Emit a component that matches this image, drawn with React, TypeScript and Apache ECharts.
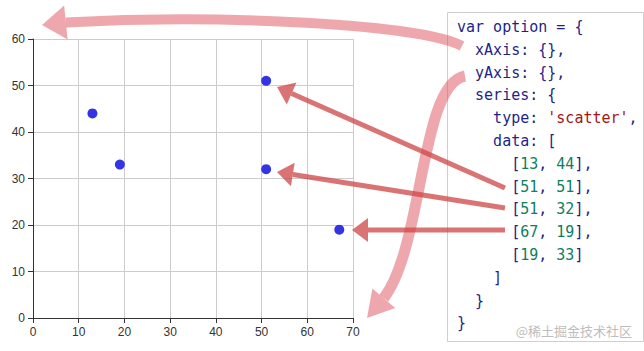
import React, { useEffect, useRef } from "react";
import * as echarts from "echarts";

const points: number[][] = [
  [13, 44],
  [51, 51],
  [51, 32],
  [67, 19],
  [19, 33],
];
const xTicks = [0, 70, 10];
const yTicks = [0, 60, 10];

const NAVY = "#1f1f87";
const RED = "#a31515";
const GREEN = "#0e8060";

type Seg = [string, string];

function codeLines(): { indent: number; segs: Seg[] }[] {
  const lines: { indent: number; segs: Seg[] }[] = [
    { indent: 0, segs: [["k", "var option = {"]] },
    { indent: 2, segs: [["k", "xAxis: {},"]] },
    { indent: 2, segs: [["k", "yAxis: {},"]] },
    { indent: 2, segs: [["k", "series: {"]] },
    { indent: 4, segs: [["k", "type: "], ["s", "'scatter'"], ["k", ","]] },
    { indent: 4, segs: [["k", "data: ["]] },
  ];
  points.forEach((p, i) => {
    lines.push({
      indent: 6,
      segs: [
        ["k", "["],
        ["n", String(p[0])],
        ["k", ", "],
        ["n", String(p[1])],
        ["k", i < points.length - 1 ? "]," : "]"],
      ],
    });
  });
  lines.push({ indent: 4, segs: [["k", "]"]] });
  lines.push({ indent: 2, segs: [["k", "}"]] });
  lines.push({ indent: 0, segs: [["k", "}"]] });
  return lines;
}

function arrowHead(fromX: number, fromY: number, tipX: number, tipY: number, len: number, half: number) {
  const dx = tipX - fromX;
  const dy = tipY - fromY;
  const L = Math.sqrt(dx * dx + dy * dy);
  const ux = dx / L;
  const uy = dy / L;
  const bx = tipX - ux * len;
  const by = tipY - uy * len;
  const nx = -uy;
  const ny = ux;
  return {
    base: [bx, by],
    poly: [
      [tipX, tipY],
      [bx + nx * half, by + ny * half],
      [bx - nx * half, by - ny * half],
    ],
  };
}

export default function App() {
  const ref = useRef<HTMLDivElement>(null);
  useEffect(() => {
    if (!ref.current) return;
    const chart = echarts.init(ref.current, undefined, { renderer: "svg" });

    const graphics: any[] = [];
    // code panel
    graphics.push({
      type: "rect",
      shape: { x: 447.5, y: 12.5, width: 196, height: 329 },
      style: { fill: "#fff", stroke: "#cfcfcf", lineWidth: 1 },
      z: 1,
    });
    const charW = 9.03;
    const colors: Record<string, string> = { k: NAVY, s: RED, n: GREEN };
    codeLines().forEach((ln, i) => {
      let x = 457 + ln.indent * charW;
      const y = 27 + i * 22.8;
      ln.segs.forEach(([k, t]) => {
        graphics.push({
          type: "text",
          x,
          y,
          style: {
            text: t,
            verticalAlign: "middle",
            fill: colors[k],
            font: '15px "DejaVu Sans Mono", monospace',
          },
          z: 2,
        });
        x += t.length * charW;
      });
    });
    // watermark
    graphics.push({
      type: "text",
      x: 632,
      y: 330,
      style: {
        text: "@稀土掘金技术社区",
        align: "right",
        verticalAlign: "middle",
        fill: "#bdbdbd",
        font: '13px "Noto Sans CJK SC", sans-serif',
      },
      z: 2,
    });

    const PINK = "rgba(222,82,92,0.5)";
    const DARK = "rgba(205,70,70,0.75)";

    // arrow 1 (top, curved to y axis)
    const h1 = arrowHead(80, 21, 42, 25, 24, 17);
    graphics.push({
      type: "bezierCurve",
      shape: { x1: 462, y1: 46, cpx1: 420, cpy1: 24, cpx2: 220, cpy2: 14, x2: h1.base[0], y2: h1.base[1] },
      style: { stroke: PINK, lineWidth: 10, fill: "none" },
      z: 5,
    });
    graphics.push({ type: "polygon", shape: { points: h1.poly }, style: { fill: PINK }, z: 5 });

    // arrow 2 (big arc down to x axis)
    const h2 = arrowHead(395, 285, 367, 318, 26, 15);
    graphics.push({
      type: "bezierCurve",
      shape: { x1: 465, y1: 76, cpx1: 420, cpy1: 84, cpx2: 424, cpy2: 245, x2: h2.base[0], y2: h2.base[1] },
      style: { stroke: PINK, lineWidth: 11, fill: "none" },
      z: 5,
    });
    graphics.push({ type: "polygon", shape: { points: h2.poly }, style: { fill: PINK }, z: 5 });

    // straight arrows
    const straight = [
      [505, 188, 277, 87],
      [505, 208, 277, 172],
      [505, 230, 352, 230],
    ];
    straight.forEach(([x1, y1, tx, ty]) => {
      const h = arrowHead(x1, y1, tx, ty, 16, 12);
      graphics.push({
        type: "line",
        shape: { x1, y1, x2: h.base[0], y2: h.base[1] },
        style: { stroke: DARK, lineWidth: 5 },
        z: 6,
      });
      graphics.push({ type: "polygon", shape: { points: h.poly }, style: { fill: DARK }, z: 6 });
    });

    const axisLabel = { color: "#333", fontSize: 12, fontFamily: "Liberation Sans, Arial, sans-serif", margin: 8 };

    chart.setOption({
      animation: false,
      grid: { left: 33, top: 39, right: 291, bottom: 33, containLabel: false },
      xAxis: {
        type: "value",
        min: xTicks[0],
        max: xTicks[1],
        interval: xTicks[2],
        axisLine: { show: true, lineStyle: { color: "#333" } },
        axisTick: { show: true, length: 5, lineStyle: { color: "#333" } },
        splitLine: { show: true, lineStyle: { color: "#ccc" } },
        axisLabel,
      },
      yAxis: {
        type: "value",
        min: yTicks[0],
        max: yTicks[1],
        interval: yTicks[2],
        axisLine: { show: true, lineStyle: { color: "#333" } },
        axisTick: { show: true, length: 5, lineStyle: { color: "#333" } },
        splitLine: { show: true, lineStyle: { color: "#ccc" } },
        axisLabel,
      },
      series: [
        {
          type: "scatter",
          data: points,
          symbolSize: 10,
          itemStyle: { color: "#3434e3", opacity: 1 },
        },
      ],
      graphic: { elements: graphics },
    });
    return () => chart.dispose();
  }, []);
  return (
    <div
      ref={ref}
      style={{ position: "fixed", left: 0, top: 0, width: 644, height: 351, background: "#fff" }}
    />
  );
}
